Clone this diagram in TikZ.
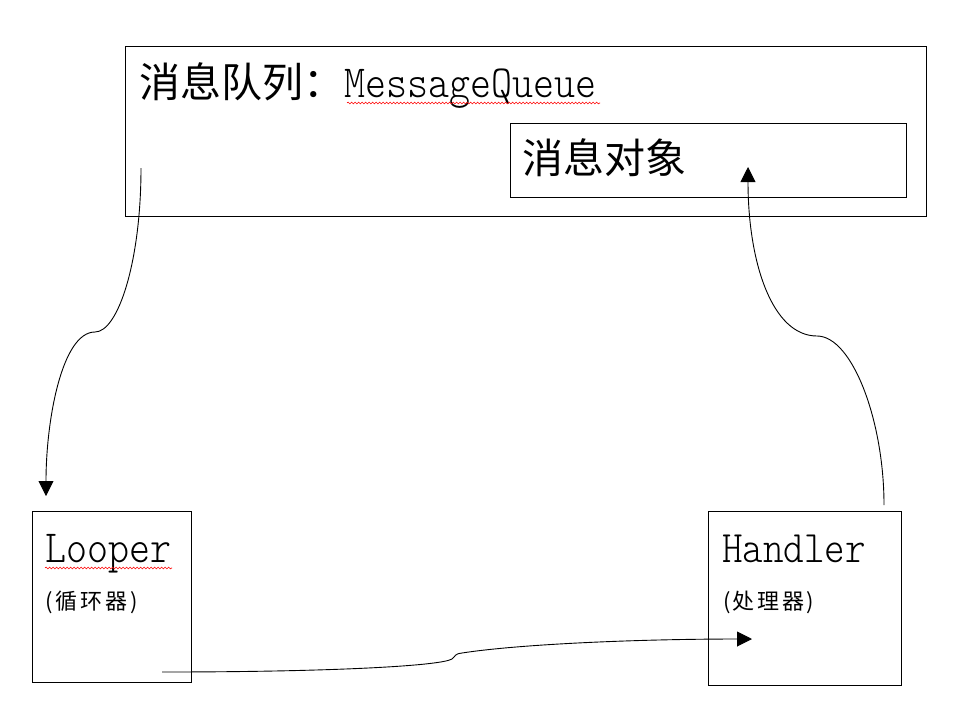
\documentclass[tikz,border=0pt]{standalone}
\usepackage{fontspec}
\newfontfamily\cjk{Noto Sans CJK SC}
\newfontfamily\mono[FakeStretch=0.87]{Latin Modern Mono Light}
\usetikzlibrary{arrows.meta,decorations.pathmorphing}
\begin{document}
\begin{tikzpicture}[x=1pt,y=-1pt,
  box/.style={draw=black,line width=0.9pt,minimum width=#1,anchor=north west,inner sep=0pt},
  lbl/.style={anchor=base west,inner sep=0pt,text=black},
  link/.style={draw=black,line width=0.9pt,-{Triangle[length=15pt,width=15pt]}},
  squiggle/.style={draw=red,line width=0.6pt,decorate,decoration={snake,amplitude=0.9pt,segment length=3.5pt}}
]
\useasboundingbox (0,0) rectangle (960,710);
% boxes
\node[box=801pt,minimum height=170pt] (mq) at (125,46) {};
\node[box=396pt,minimum height=74pt] (msg) at (510,123) {};
\node[box=159pt,minimum height=171pt] (looper) at (32,511) {};
\node[box=193pt,minimum height=174pt] (handler) at (708,511) {};
% texts
\node[lbl] (mqtext) at (139,97) {{\cjk\fontsize{41}{42}\selectfont 消息队列：}{\mono\fontsize{46}{48}\selectfont MessageQueue}};
\node[lbl] (msgtext) at (522,173) {\cjk\fontsize{41}{42}\selectfont 消息对象};
\node[lbl] (lptext) at (45,562) {\mono\fontsize{46}{48}\selectfont Looper};
\node[lbl] (lpsub) at (45,609) {\cjk\fontsize{22}{24}\selectfont (\hspace{3pt}循\hspace{3pt}环\hspace{3pt}器\hspace{3pt})};
\node[lbl] (hdtext) at (722,562) {\mono\fontsize{45}{48}\selectfont Handler};
\node[lbl] (hdsub) at (723,609) {\cjk\fontsize{22}{24}\selectfont (\hspace{2pt}处\hspace{3pt}理\hspace{3pt}器\hspace{2pt})};
% spell-check squiggles
\draw[squiggle] (347,103) -- (600,103);
\draw[squiggle] (45,568) -- (172,568);
% connector end points
\coordinate (qout) at (141,168);
\coordinate (lin) at (46,496);
\coordinate (lout) at (162,672);
\coordinate (hin) at (752,639);
\coordinate (hout) at (884,505);
\coordinate (min) at (748,167);
% connectors
\draw[link] (qout) .. controls (141,262) and (118,332) .. (95,332)
  .. controls (62,332) and (46,420) .. (lin);
\draw[link] (hout) .. controls (884,420) and (852,336) .. (817,336)
  .. controls (772,336) and (748,262) .. (min);
\draw[link] (lout) .. controls (330,672) and (440,666) .. (452,659)
  .. controls (456,656) and (454,654) .. (462,653)
  .. controls (520,644) and (640,639) .. (hin);
\end{tikzpicture}
\end{document}
